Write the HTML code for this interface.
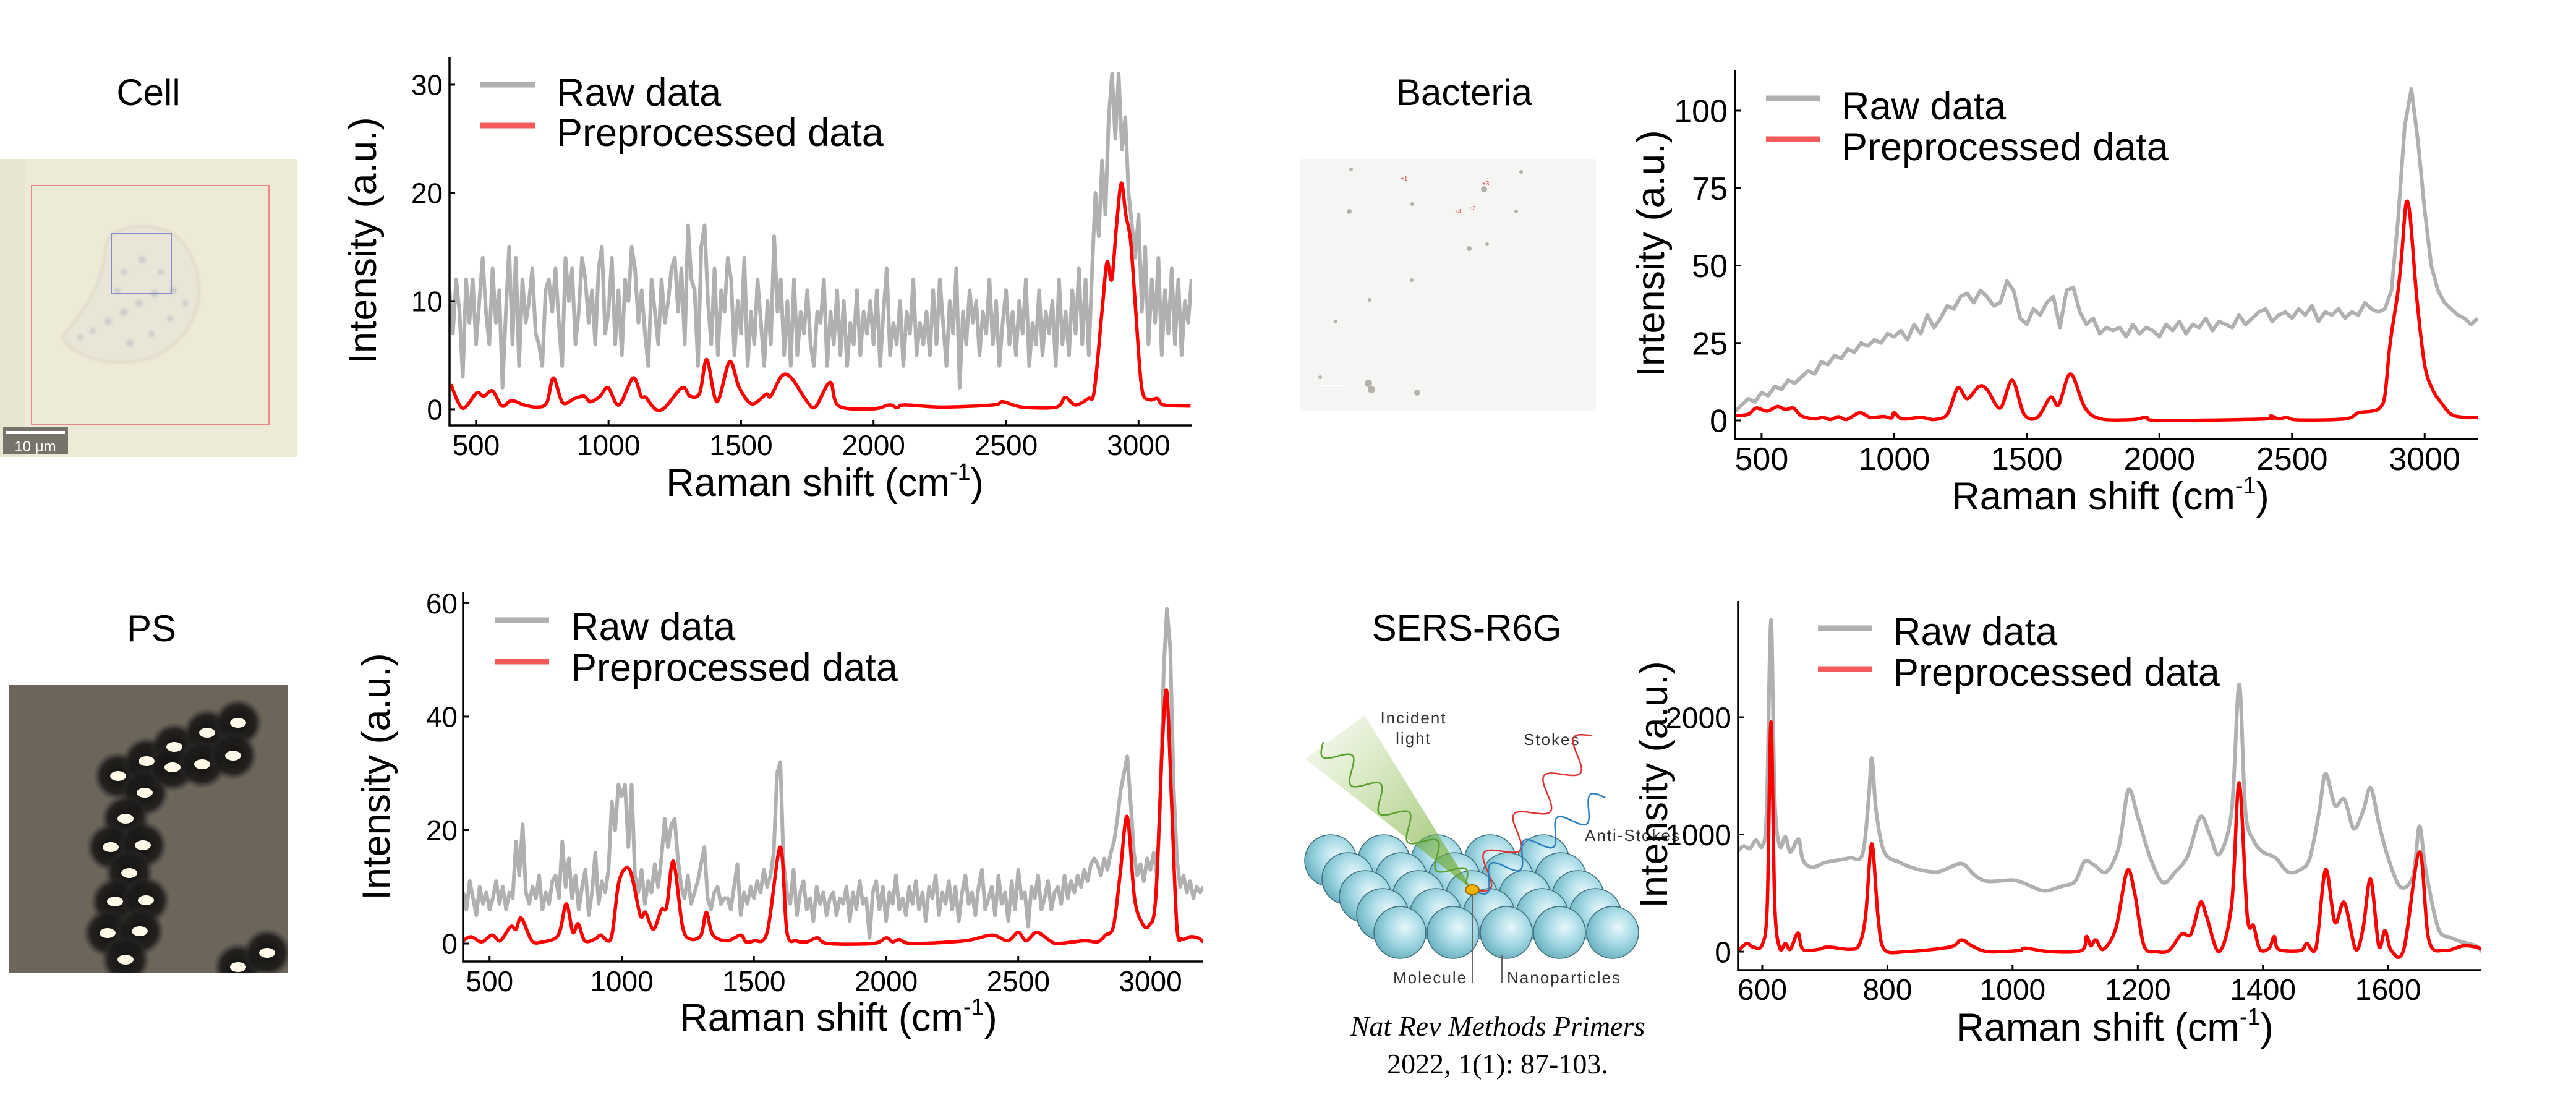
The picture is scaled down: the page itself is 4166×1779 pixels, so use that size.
<!DOCTYPE html>
<html><head><meta charset="utf-8"><title>Raman spectra preprocessing</title>
<style>
html,body{margin:0;padding:0;background:#fff;}
svg{display:block;font-family:"Liberation Sans",Arial,sans-serif;}
</style></head>
<body>
<svg id="fig" xmlns="http://www.w3.org/2000/svg" width="4166" height="1779" viewBox="0 0 4166 1779">
<defs>
  <radialGradient id="sph" cx="0.6" cy="0.4" r="0.7">
    <stop offset="0" stop-color="#e8f7fa"/><stop offset="0.45" stop-color="#a8dbe6"/><stop offset="1" stop-color="#5fa9ba"/>
  </radialGradient>
  <linearGradient id="cone" x1="0" y1="0" x2="1" y2="1">
    <stop offset="0" stop-color="#8fbf4a" stop-opacity="0.05"/><stop offset="1" stop-color="#6aa52a" stop-opacity="0.75"/>
  </linearGradient>
  <radialGradient id="halo" cx="0.5" cy="0.5" r="0.5">
    <stop offset="0" stop-color="#111"/><stop offset="0.7" stop-color="#1c1a18" stop-opacity="0.9"/><stop offset="1" stop-color="#333" stop-opacity="0"/>
  </radialGradient>
  <filter id="blur2"><feGaussianBlur stdDeviation="2"/></filter>
</defs>

<text x="240" y="170" font-size="60" text-anchor="middle">Cell</text>
<text x="2368" y="170" font-size="60" text-anchor="middle">Bacteria</text>
<text x="245" y="1037" font-size="60" text-anchor="middle">PS</text>
<text x="2372" y="1036" font-size="60" text-anchor="middle">SERS-R6G</text>

<g>
  <rect x="0" y="257" width="480" height="482" fill="#eeead8"/>
  <rect x="0" y="257" width="40" height="482" fill="#e2dfcc" opacity="0.6"/>
  <path d="M100 545 C140 500 170 450 170 400 C175 370 220 360 260 370 C300 380 315 420 320 450 C330 500 300 560 240 580 C180 595 120 580 100 545 Z" fill="#e9e6d8" stroke="#dcd6c2" stroke-width="3" filter="url(#blur2)"/>
  <g fill="#b8bcc0" opacity="0.6" filter="url(#blur2)">
    <circle cx="130" cy="545" r="5"/><circle cx="150" cy="535" r="5"/><circle cx="175" cy="520" r="6"/><circle cx="200" cy="505" r="6"/><circle cx="225" cy="490" r="6"/><circle cx="250" cy="475" r="6"/><circle cx="200" cy="440" r="5"/><circle cx="230" cy="420" r="6"/><circle cx="260" cy="440" r="5"/><circle cx="280" cy="470" r="6"/><circle cx="210" cy="555" r="6"/><circle cx="245" cy="540" r="5"/><circle cx="275" cy="515" r="5"/><circle cx="300" cy="490" r="5"/><circle cx="190" cy="470" r="5"/>
  </g>
  <rect x="51" y="300" width="384" height="387" fill="none" stroke="#e88" stroke-width="2"/>
  <rect x="180" y="378" width="97" height="97" fill="none" stroke="#88c" stroke-width="2"/>
  <rect x="5" y="690" width="105" height="45" fill="#76736a"/>
  <rect x="10" y="697" width="95" height="5" fill="#fff"/>
  <text x="57" y="730" font-size="24" fill="#fff" text-anchor="middle">10 μm</text>
</g>

<g>
  <rect x="2103" y="257" width="478" height="407" fill="#f5f6f3"/>
  <g fill="#9a948c" opacity="0.7">
    <circle cx="2185" cy="274" r="3"/><circle cx="2400" cy="306" r="5"/><circle cx="2452" cy="342" r="3"/><circle cx="2182" cy="342" r="4"/><circle cx="2284" cy="330" r="3"/><circle cx="2405" cy="395" r="3"/><circle cx="2376" cy="402" r="4"/><circle cx="2283" cy="453" r="3"/><circle cx="2215" cy="485" r="3"/><circle cx="2160" cy="520" r="3"/><circle cx="2135" cy="610" r="3"/><circle cx="2292" cy="635" r="5"/><circle cx="2213" cy="620" r="6"/><circle cx="2218" cy="630" r="6"/><circle cx="2460" cy="278" r="3"/>
  </g>
  <g fill="#d44" font-size="10"><text x="2265" y="292">+1</text><text x="2375" y="340">+2</text><text x="2397" y="300">+3</text><text x="2352" y="345">+4</text></g>
  <rect x="2128" y="623" width="45" height="2" fill="#fff"/>
</g>

<g id="ps-img">
  <rect x="14" y="1108" width="452" height="466" fill="#6c655a"/>
</g>

<g id="sers">
  <polygon points="2111,1227 2207,1157 2381,1439" fill="url(#cone)"/>
  <text x="2286" y="1170" font-size="26" fill="#333" text-anchor="middle" letter-spacing="2">Incident</text>
  <text x="2286" y="1203" font-size="26" fill="#333" text-anchor="middle" letter-spacing="2">light</text>
  <text x="2464" y="1205" font-size="26" fill="#333" letter-spacing="2">Stokes</text>
  <text x="2563" y="1360" font-size="26" fill="#333" letter-spacing="2">Anti-Stokes</text>
  <text x="2253" y="1590" font-size="26" fill="#333" letter-spacing="2">Molecule</text>
  <text x="2437" y="1590" font-size="26" fill="#333" letter-spacing="2">Nanoparticles</text>
</g>
<text x="2422" y="1675" font-size="46" font-style="italic" text-anchor="middle" font-family="Liberation Serif, serif">Nat Rev Methods Primers</text>
<text x="2422" y="1736" font-size="46" text-anchor="middle" font-family="Liberation Serif, serif">2022, 1(1): 87-103.</text>

<g id="charts"></g>
</svg>

<script>
// ---------------- Chart data ----------------
const cellRawStart = 400, cellRawStep = 12.5;
const cellRaw = [
 11,7,12,9,3,12,8,12,6,10,14,9,6,13,8,11,
 2,9,15,6,14,4,12,8,10,13,7,6,4,11,12,9,
 13,8,4,14,10,13,6,9,14,12,8,11,6,13,15,7,
 9,14,6,11,5,12,10,15,13,8,11,7,4,12,9,6,
 12,8,10,13,14,9,13,6,17,12,11,4,15,17,10,6,
 13,5,11,9,14,12,5,10,7,14,4,9,6,12,8,4,
 10,6,16,9,12,5,10,4,12,5,9,7,11,6,4,9,
 8,12,4,9,6,11,5,10,4,8,6,11,5,9,7,10,
 6,11,4,9,13,5,8,6,10,4,9,7,12,5,8,6,
 9,5,11,6,12,8,4,10,7,13,2,9,6,11,8,10,
 5,9,7,12,6,10,4,8,11,6,9,5,10,7,12,4,
 8,6,11,5,9,7,10,4,12,6,9,5,11,7,13,6,
 12,5,13,20,16,23,18,27,31,25,31,24,27,20,17,14,
 18,9,15,6,12,8,14,5,11,7,13,6,12,5,10,8,
 12];
const cellPreX = [405,449,502,529,562,598,634,681,729,767,792,827,872,908,932,968,998,1039,1093,1123,1141,1177,1212,1278,1308,1344,1371,1409,1457,1493,1541,1595,1612,1654,1690,1744,1780,1836,1869,2000,2060,2089,2117,2262,2452,2488,2560,2690,2723,2762,2810,2833,2863,2881,2899,2917,2935,2952,2970,2988,3012,3042,3071,3095,3196];
const cellPreY = [2.3,0.1,1.5,1.2,1.7,0.3,0.8,0.4,0.2,0.6,2.9,0.6,1.0,1.2,0.7,1.2,2.0,0.4,2.9,1.2,1.1,0,0.15,2.0,1.2,1.5,4.6,0.7,4.4,2.0,0.5,1.4,1.2,3.1,2.9,0.9,0.2,2.5,0.3,0.05,0.4,0.15,0.4,0.2,0.4,0.7,0.2,0.2,1.1,0.4,1.0,1.7,9.3,13.6,12,17,20.9,18,15.6,9.6,2.0,0.9,1.0,0.4,0.3];

const bactRawStart = 400, bactRawStep = 25;
const bactRaw = [
 3,5,7,6,9,8,11,10,13,12,
 14,16,15,19,18,21,20,23,22,25,
 24,26,25,28,27,29,26,31,28,34,
 30,33,37,36,40,41,38,42,40,37,
 38,45,42,33,31,36,34,38,40,30,
 42,43,35,31,33,28,30,29,30,27,
 31,28,30,29,27,31,29,32,28,31,
 30,33,29,32,31,30,34,31,33,35,
 36,32,34,35,33,36,34,37,32,35,
 34,36,33,35,34,38,36,35,36,42,
 65,95,107,90,68,50,42,38,36,34,
 33,31,33];
const bactPreX = [400,450,480,520,560,590,620,650,700,730,760,790,820,870,910,960,990,1000,1030,1100,1150,1200,1240,1275,1320,1350,1400,1445,1490,1540,1590,1620,1665,1720,1780,1900,1950,2000,2400,2420,2450,2480,2520,2700,2750,2800,2830,2850,2870,2900,2915,2930,2945,2970,3000,3030,3060,3100,3150,3200];
const bactPreY = [1.5,2,4,3,4.5,3.5,4,1.5,0.5,1,0.3,1.2,0.3,2.5,1,1.3,0.8,2.5,0.5,1,0.3,2,10.5,7,11,10,4,13,2,1,7.5,5,15,4,0.5,0.3,1,0,0.5,1.5,0.5,1,0.2,0.5,2.5,3,4,8,25,42,55,70,66,40,18,10,6,2,1,1];

const psRawStart = 400, psRawStep = 12.5;
const psRaw = [
 9,6,11,8,5,10,7,9,6,8,11,7,10,6,9,8,
 18,12,21,9,7,10,8,12,6,9,7,11,12,8,18,10,
 15,8,12,6,10,13,5,9,16,7,11,9,13,25,20,28,
 26,28,17,28,12,9,13,7,11,9,14,10,15,22,17,21,
 22,15,10,8,12,7,9,11,14,17,8,6,9,10,7,8,
 8,6,10,14,5,9,7,10,8,11,9,13,10,12,16,30,
 32,14,9,7,13,5,9,11,6,8,4,10,7,9,5,8,
 9,5,8,7,10,4,9,6,11,7,8,1,9,11,6,10,
 4,9,7,12,6,8,5,10,7,11,6,9,4,10,8,12,
 5,9,7,11,6,10,4,9,12,7,9,5,10,13,6,8,
 10,5,12,7,9,4,11,6,13,8,9,3,10,8,12,6,
 8,11,6,9,10,7,12,8,11,9,12,10,13,11,14,15,
 14,12,15,13,16,18,22,27,30,33,25,16,12,14,11,15,
 13,16,12,25,48,59,52,28,15,10,12,9,11,8,10,9,
 10];
const psPreX = [400,430,470,510,540,580,600,620,660,700,760,790,815,835,860,900,920,960,990,1030,1070,1090,1120,1150,1170,1195,1230,1260,1300,1320,1345,1400,1450,1470,1500,1550,1600,1625,1660,1700,1740,1780,1950,2000,2025,2050,2100,2300,2400,2460,2500,2530,2570,2620,2650,2750,2800,2830,2860,2885,2912,2940,2970,2995,3020,3045,3062,3080,3100,3120,3150,3180,3200];
const psPreY = [0.5,1.2,0.3,1.5,0.5,3,2.5,4.5,0.5,0.3,1.5,7,2,3.5,0.5,0.8,1.5,1,11,13,5,5.5,2.5,6,6.5,14.5,3,0.8,1.5,5.5,1.5,0.5,1.5,0.3,0.5,2,17,2,0.5,0.3,1,0,0,1,0.3,0.7,0,0.5,1.5,0.5,2,0.5,2,0.5,0,0.5,0.3,1.5,3,12,22.4,8,3.5,3.2,8,35,44.4,25,3,0.8,1.2,1,0.3];

const sersRawX = [560,570,580,590,600,607,614,620,628,637,645,658,665,680,700,720,740,760,770,775,782,795,820,850,880,900,920,940,960,1000,1020,1050,1080,1100,1115,1130,1150,1170,1185,1200,1220,1240,1260,1280,1300,1315,1330,1350,1362,1372,1385,1400,1420,1440,1460,1475,1490,1500,1515,1530,1545,1560,1572,1585,1600,1620,1640,1650,1660,1680,1700,1720,1740,1750];
const sersRawY = [850,900,880,950,900,1200,2830,1300,900,980,850,960,780,720,760,780,800,830,1300,1650,1200,850,760,700,680,720,750,650,600,610,580,520,560,600,770,740,680,900,1380,1150,800,590,680,820,1150,1000,830,1200,2280,1200,950,850,800,680,700,800,1200,1520,1250,1300,1050,1200,1400,1100,800,550,650,1070,700,200,120,80,50,0];
const sersPreX = [560,575,585,600,608,614,620,628,637,645,657,665,690,705,740,755,765,775,785,795,830,900,918,935,960,1010,1020,1060,1110,1118,1125,1133,1145,1165,1183,1195,1210,1230,1250,1270,1285,1300,1310,1330,1350,1362,1375,1385,1395,1410,1418,1425,1460,1470,1485,1500,1515,1530,1548,1560,1572,1585,1595,1605,1625,1650,1665,1690,1720,1740,1750];
const sersPreY = [0,70,40,60,400,1960,400,30,70,20,160,20,20,40,20,60,300,920,300,20,0,40,100,50,0,10,30,0,10,130,50,100,20,200,690,500,50,0,10,150,150,420,300,0,400,1440,300,220,20,30,130,20,10,70,40,700,250,420,20,200,620,50,180,10,20,850,100,10,50,40,20];

const ticksX_wide = [500,1000,1500,2000,2500,3000];
const ticksX_sers = [600,800,1000,1200,1400,1600];
const ticksY_cell = [0,10,20,30];
const ticksY_bact = [0,25,50,75,100];
const ticksY_ps = [0,20,40,60];
const ticksY_sers = [0,1000,2000];

// ---------------- Rendering ----------------
const NS = "http://www.w3.org/2000/svg";
const root = document.getElementById('charts');
function mk(tag, attrs, parent){
  const e = document.createElementNS(NS, tag);
  for (const k in attrs) e.setAttribute(k, attrs[k]);
  (parent || root).appendChild(e);
  return e;
}
function expand(start, step, vals){ return vals.map((v,i)=>[start + i*step, v]); }
function zip(xs, ys){ return xs.map((x,i)=>[x, ys[i]]); }
function smoothPath(pts){
  let d = `M${pts[0][0].toFixed(1)},${pts[0][1].toFixed(1)}`;
  for (let i=0;i<pts.length-1;i++){
    const p0 = pts[Math.max(0,i-1)], p1 = pts[i], p2 = pts[i+1], p3 = pts[Math.min(pts.length-1,i+2)];
    const t = 0.16;
    const c1x = p1[0] + (p2[0]-p0[0])*t, c1y = p1[1] + (p2[1]-p0[1])*t;
    const c2x = p2[0] - (p3[0]-p1[0])*t, c2y = p2[1] - (p3[1]-p1[1])*t;
    d += ` C${c1x.toFixed(1)},${c1y.toFixed(1)} ${c2x.toFixed(1)},${c2y.toFixed(1)} ${p2[0].toFixed(1)},${p2[1].toFixed(1)}`;
  }
  return d;
}
function linePath(pts){ return pts.map((p,i)=>(i?'L':'M')+p[0].toFixed(1)+','+p[1].toFixed(1)).join(' '); }

function drawChart(cfg){
  const g = mk('g', {});
  
  
  const sx = v => cfg.x0 + (v - cfg.xmin) / (cfg.xmax - cfg.xmin) * (cfg.x1 - cfg.x0);
  const sy = v => cfg.yBot - (v - cfg.ymin) / (cfg.ymax - cfg.ymin) * (cfg.yBot - cfg.yTop);
  const clipId = cfg.name + '-clip';
  const cp = mk('clipPath', {id: clipId}, g);
  mk('rect', {x: cfg.x0, y: cfg.yTop - 20, width: cfg.x1 - cfg.x0, height: cfg.yBot - cfg.yTop + 20}, cp);

  const raw = cfg.raw.map(p=>[sx(p[0]), sy(p[1])]);
  const rawEl = mk('path', {d: cfg.rawSmooth ? smoothPath(raw) : linePath(raw), fill:'none', stroke:'#b0b0b0', 'stroke-width':6, 'stroke-linejoin':'round', 'clip-path':`url(#${clipId})`}, g);
  
  
  const pre = cfg.pre.map(p=>[sx(p[0]), sy(p[1])]);
  const preEl = mk('path', {d: smoothPath(pre), fill:'none', stroke:'#ff0000', 'stroke-width':5.5, 'stroke-linejoin':'round', 'clip-path':`url(#${clipId})`}, g);
  
  

  const ax = mk('path', {d:`M${cfg.x0},${cfg.yTop} L${cfg.x0},${cfg.yBot} L${cfg.x1},${cfg.yBot}`, fill:'none', stroke:'#000', 'stroke-width':3.5}, g);
  
  

  cfg.xt.forEach(v=>{
    const x = sx(v);
    const t = mk('line', {x1:x, x2:x, y1:cfg.yBot, y2:cfg.yBot-9, stroke:'#000', 'stroke-width':3}, g);
    
    
    const l = mk('text', {x:x, y:cfg.yBot + cfg.xlOff, 'font-size':cfg.tf, 'text-anchor':'middle'}, g);
    l.textContent = v;
    
    
  });
  cfg.yt.forEach(v=>{
    const y = sy(v);
    const t = mk('line', {x1:cfg.x0, x2:cfg.x0+9, y1:y, y2:y, stroke:'#000', 'stroke-width':3}, g);
    
    
    const l = mk('text', {x:cfg.ylRight, y:y + cfg.tf*0.36, 'font-size':cfg.tf, 'text-anchor':'end'}, g);
    l.textContent = v;
    
    
  });

  const yt = mk('text', {x:0, y:0, 'font-size':63, 'text-anchor':'middle', transform:`translate(${cfg.ytx + 22},${cfg.yty}) rotate(-90)`}, g);
  yt.textContent = 'Intensity (a.u.)';
  
  
  const xt = mk('text', {x:cfg.xtx, y:cfg.xty, 'font-size':63, 'text-anchor':'middle'}, g);
  
  
  const t1 = mk('tspan', {}, xt); t1.textContent = 'Raman shift (cm';
  const t2 = mk('tspan', {'font-size':38, dy:-26}, xt); t2.textContent = '-1';
  const t3 = mk('tspan', {dy:26}, xt); t3.textContent = ')';

  const lg = mk('g', {}, g);
  
  
  const L = cfg.leg;
  const e1 = mk('line', {x1:L.x, x2:L.x+88, y1:L.y1, y2:L.y1, stroke:'#b0b0b0', 'stroke-width':9}, lg);
  
  
  const e2 = mk('line', {x1:L.x, x2:L.x+88, y1:L.y2, y2:L.y2, stroke:'#f55a5a', 'stroke-width':9}, lg);
  
  
  const l1 = mk('text', {x:L.tx, y:L.b1, 'font-size':63}, lg); l1.textContent = 'Raw data';
  
  
  const l2 = mk('text', {x:L.tx, y:L.b2, 'font-size':63}, lg); l2.textContent = 'Preprocessed data';
  
  
}

drawChart({name:'cell-chart', x0:727, x1:1927, yTop:92, yBot:688, xmin:400, xmax:3200, ymin:-1.49, ymax:32.57,
  raw: expand(cellRawStart, cellRawStep, cellRaw), pre: zip(cellPreX, cellPreY),
  xt: ticksX_wide, yt: ticksY_cell, tf:46, xlOff:48, ylRight:716,
  ytx:586, yty:389, xtx:1334, xty:802,
  leg:{x:777, y1:137, y2:203, tx:900, b1:171, b2:236}});
drawChart({name:'bacteria-chart', x0:2806, x1:4007, yTop:114, yBot:710, xmin:400, xmax:3200, ymin:-5.99, ymax:112.97,
  raw: expand(bactRawStart, bactRawStep, bactRaw), pre: zip(bactPreX, bactPreY),
  xt: ticksX_wide, yt: ticksY_bact, tf:52, xlOff:50, ylRight:2794,
  ytx:2669, yty:410, xtx:3413, xty:824,
  leg:{x:2856, y1:159, y2:225, tx:2978, b1:193, b2:259}});
drawChart({name:'ps-chart', x0:749, x1:1946, yTop:958, yBot:1555, xmin:400, xmax:3200, ymin:-3.16, ymax:61.9,
  raw: expand(psRawStart, psRawStep, psRaw), pre: zip(psPreX, psPreY),
  xt: ticksX_wide, yt: ticksY_ps, tf:46, xlOff:48, ylRight:740,
  ytx:608, yty:1256, xtx:1356, xty:1667,
  leg:{x:800, y1:1003, y2:1070, tx:923, b1:1035, b2:1101}});
drawChart({name:'sers-chart', x0:2811, x1:4013, yTop:972, yBot:1569, xmin:561.5, xmax:1749, ymin:-158, ymax:2992,
  raw: zip(sersRawX, sersRawY), rawSmooth:true, pre: zip(sersPreX, sersPreY),
  xt: ticksX_sers, yt: ticksY_sers, tf:48, xlOff:48, ylRight:2800,
  ytx:2674, yty:1269, xtx:3420, xty:1683,
  leg:{x:2940, y1:1016, y2:1082, tx:3061, b1:1043, b2:1109}});

const psImg = document.getElementById('ps-img');
const beadPos = [[191,1255],[237,1231],[234,1282],[282,1208],[279,1241],[335,1185],[327,1236],[385,1169],[377,1222],[203,1324],[179,1370],[231,1367],[209,1412],[186,1458],[236,1456],[174,1509],[226,1506],[203,1552],[385,1564],[432,1541]];
beadPos.forEach(p=>{
  const h = mk('circle', {cx:p[0], cy:p[1], r:40, fill:'url(#halo)'}, psImg);
  
  
});
beadPos.forEach(p=>{
  const d = mk('ellipse', {cx:p[0], cy:p[1], rx:13, ry:8, fill:'#fffbe8'}, psImg);
  
  
});
// clip beads to image frame
const psClip = mk('clipPath', {id:'ps-clip'}, psImg);
mk('rect', {x:14, y:1108, width:452, height:466}, psClip);
psImg.setAttribute('clip-path', 'url(#ps-clip)');

const sers = document.getElementById('sers');
const cone = sers.firstElementChild;
for (let r=0;r<5;r++){
  for (let c=0;c<5;c++){
    const cx = 2152 + r*28 + c*86, cy = 1392 + r*29;
    const s = mk('circle', {cx:cx, cy:cy, r:42, fill:'url(#sph)', stroke:'#3f6f7a', 'stroke-width':1.5}, sers);
    
    
    sers.insertBefore(s, cone);
  }
}
function wave(x1,y1,x2,y2,n,amp){
  const dx=x2-x1, dy=y2-y1, len=Math.hypot(dx,dy), ux=dx/len, uy=dy/len;
  let d='';
  for(let i=0;i<=200;i++){
    const t=i/200, s=Math.sin(t*n*2*Math.PI)*amp;
    const x=x1+dx*t - uy*s, y=y1+dy*t + ux*s;
    d+=(i?'L':'M')+x.toFixed(1)+','+y.toFixed(1);
  }
  return d;
}
const gw = mk('path', {d:wave(2140,1200,2370,1430,5,18), fill:'none', stroke:'#5aa030', 'stroke-width':2.5}, sers);


const rw = mk('path', {d:wave(2381,1439,2575,1190,4,22), fill:'none', stroke:'#d33', 'stroke-width':2.5}, sers);


const bw = mk('path', {d:wave(2381,1439,2596,1290,4,18), fill:'none', stroke:'#2a7fc0', 'stroke-width':2.5}, sers);


mk('line', {x1:2381, y1:1439, x2:2381, y2:1590, stroke:'#666', 'stroke-width':2}, sers);
mk('line', {x1:2429, y1:1545, x2:2429, y2:1590, stroke:'#666', 'stroke-width':2}, sers);
const mol = mk('ellipse', {cx:2381, cy:1439, rx:11, ry:8, fill:'#f5b400', stroke:'#a06a00', 'stroke-width':2}, sers);


</script>
</body></html>
